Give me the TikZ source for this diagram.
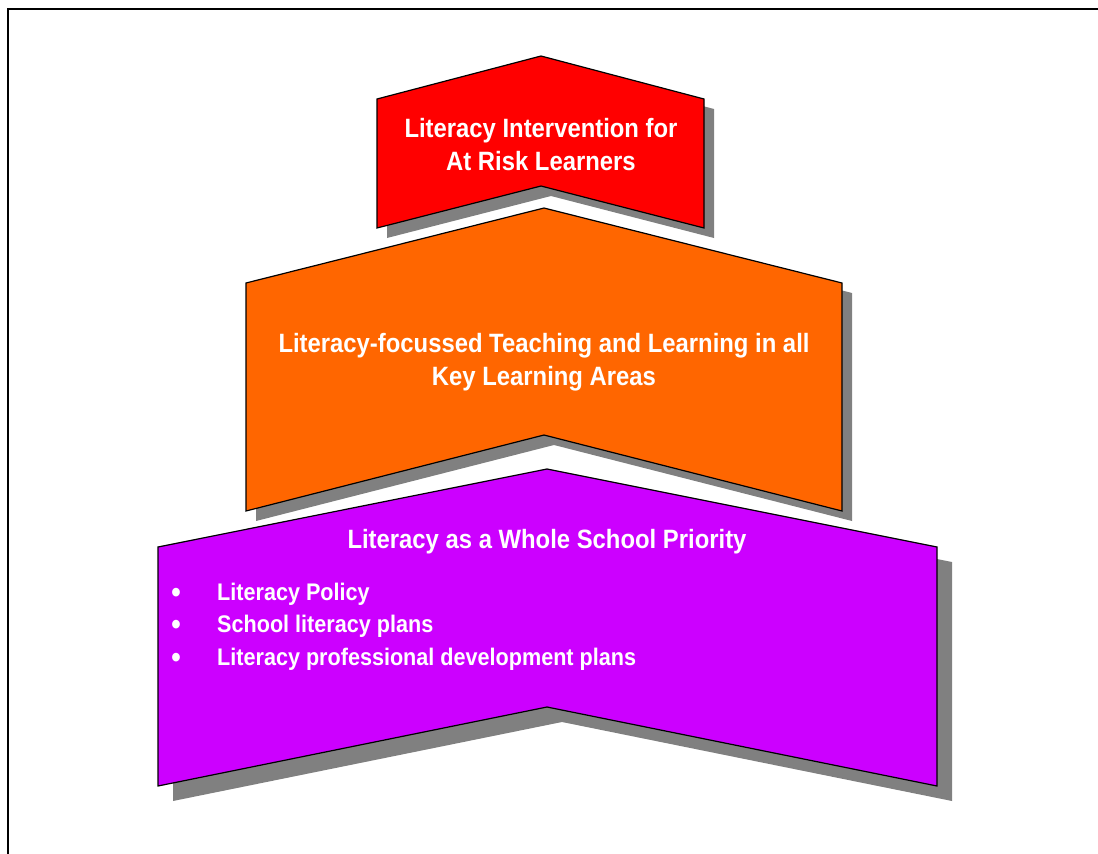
\documentclass[tikz,border=0pt]{standalone}
\usepackage{fontspec}
\setmainfont[FakeStretch=0.9]{Liberation Sans}
\definecolor{myred}{RGB}{255,0,0}
\definecolor{myorange}{RGB}{255,102,0}
\definecolor{mypurple}{RGB}{204,0,255}
\definecolor{mygray}{RGB}{128,128,128}

\begin{document}
\begin{tikzpicture}[x=1pt,y=-1pt,
    tiertext/.style={text=white,font=\bfseries\fontsize{26.5}{33}\selectfont,align=center,inner sep=0pt},
    itemtext/.style={text=white,font=\bfseries\fontsize{24}{32}\selectfont,anchor=base west,inner sep=0pt},
    dottext/.style={text=white,font=\bfseries\fontsize{30}{30}\selectfont,anchor=base,inner sep=0pt}]
            \useasboundingbox (0,0) rectangle (1098,854);
            \draw[line width=2.5pt] (8,854) -- (8,9) -- (1098,9);

            % top tier
            \fill[mygray] (387,109) -- (551,66) -- (714,109) -- (714,238) -- (551,196) -- (387,238) -- cycle;
            \draw[line width=1.2pt,fill=myred] (377,99) -- (541,56) -- (704,99) -- (704,228) -- (541,186) -- (377,228) -- cycle;
            \node[tiertext] (top) at (541,144.5) {Literacy Intervention for\\At Risk Learners};

            % middle tier
            \fill[mygray] (256,293) -- (554,218) -- (852,293) -- (852,521) -- (554,445) -- (256,521) -- cycle;
            \draw[line width=1.2pt,fill=myorange] (246,283) -- (544,208) -- (842,283) -- (842,511) -- (544,435) -- (246,511) -- cycle;
            \node[tiertext] (mid) at (544,362) {Literacy-focussed Teaching and Learning in all\\Key Learning Areas};

            % bottom tier
            \fill[mygray] (173,562) -- (562,484) -- (952,562) -- (952,801) -- (562,722) -- (173,801) -- cycle;
            \draw[line width=1.2pt,fill=mypurple] (158,547) -- (547,469) -- (937,547) -- (937,786) -- (547,707) -- (158,786) -- cycle;
            \node[tiertext] (base) at (547,542) {Literacy as a Whole School Priority};

            \foreach \i/\y/\t in {1/600/Literacy Policy,2/632/School literacy plans,3/665/Literacy professional development plans} {
                \node[dottext] (dot\i) at (176,\y+2) {•};
                \node[itemtext] (item\i) at (217,\y) {\t};
            }
        \end{tikzpicture}
\end{document}
